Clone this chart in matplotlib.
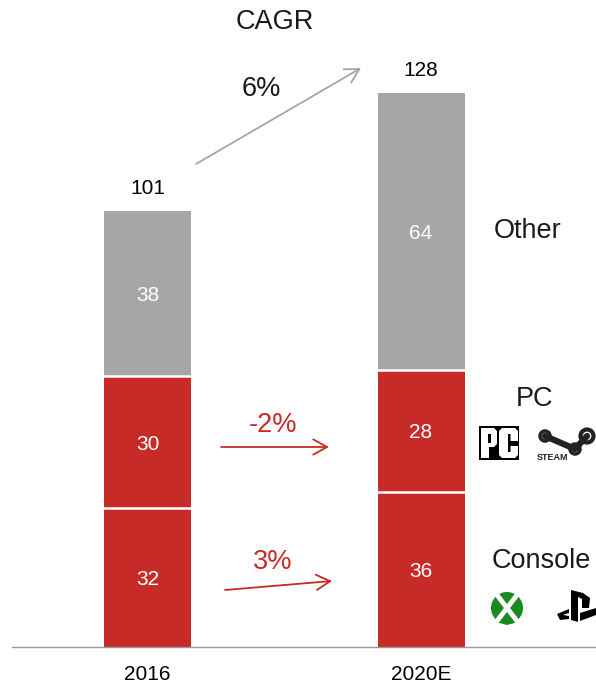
import numpy as np
import matplotlib
matplotlib.use('Agg')
import matplotlib.pyplot as plt
from matplotlib.patches import Circle, Polygon, Rectangle, Wedge

plt.rcParams['font.family'] = ['Liberation Sans', 'DejaVu Sans']

years = ['2016', '2020E']
console = [32.1, 35.8]
pc = [30.5, 28.2]
other = [38.2, 64.0]
console_labels = ['32', '36']
pc_labels = ['30', '28']
other_labels = ['38', '64']
totals = ['101', '128']

RED = '#c62b27'
GRAY = '#a6a6a6'
TEXT = '#1a1a1a'

W, H = 596, 683
BASE = 647
SCALE = 4.328

fig = plt.figure(figsize=(W / 100, H / 100), dpi=100)

# bars live in value space, y=0 on the baseline
ax = fig.add_axes([0, 0, 1, 1])
ax.set_xlim(0, W)
ax.set_ylim(-(H - BASE) / SCALE, BASE / SCALE)
ax.axis('off')

x = np.array([147.5, 421])
width = 87
console = np.array(console)
pc = np.array(pc)
other = np.array(other)

for bottom, vals, col, labels in [(0 * console, console, RED, console_labels),
                                  (console, pc, RED, pc_labels),
                                  (console + pc, other, GRAY, other_labels)]:
    ax.bar(x, vals, width, bottom=bottom, color=col)
    for xi, b, v, lab in zip(x, bottom, vals, labels):
        ax.text(xi, b + v / 2 - 0.45, lab, color='white', fontsize=15, ha='center', va='center')

# white separators between segments
for xi, level in zip(np.repeat(x, 2), np.column_stack([console, console + pc]).ravel()):
    ax.plot([xi - width / 2, xi + width / 2], [level, level], color='white', lw=1.8)

tops = console + pc + other
for xi, t, lab in zip(x, tops, totals):
    ax.text(xi, t + 5.1, lab, color='black', fontsize=15, ha='center', va='center')
for xi, lab in zip(x, years):
    ax.text(xi, -6.3, lab, color='black', fontsize=15, ha='center', va='center')

ax.plot([12, 596], [0, 0], color='#9a9a9a', lw=1, clip_on=False)

# annotations and logos in pixel space
ov = fig.add_axes([0, 0, 1, 1])
ov.set_xlim(0, W)
ov.set_ylim(H, 0)
ov.axis('off')
ov.patch.set_alpha(0)

ov.text(275, 22, 'CAGR', fontsize=19.5, color=TEXT, ha='center', va='center')
ov.text(261, 89, '6%', fontsize=19.5, color=TEXT, ha='center', va='center')
ov.text(273, 425, '-2%', fontsize=19.5, color=RED, ha='center', va='center')
ov.text(272.5, 562, '3%', fontsize=19.5, color=RED, ha='center', va='center')
ov.text(528, 231, 'Other', fontsize=19.5, color=TEXT, ha='center', va='center')
ov.text(535, 399, 'PC', fontsize=19.5, color=TEXT, ha='center', va='center')
ov.text(541, 561.5, 'Console', fontsize=19.5, color=TEXT, ha='center', va='center')


def arrow(x0, y0, x1, y1, col):
    ov.annotate('', xy=(x1, y1), xytext=(x0, y0),
                arrowprops=dict(arrowstyle='->,head_length=1.0,head_width=0.55',
                                color=col, lw=1.3, shrinkA=0, shrinkB=0))


arrow(196, 164, 361, 68, GRAY)
arrow(221, 447, 329, 447, RED)
arrow(225, 590, 332, 581, RED)

# PC logo, block letters
ov.add_patch(Rectangle((479, 426), 40, 34, color='black', lw=0))
ov.add_patch(Polygon([[481, 428], [494, 428], [497, 431], [497, 444], [494, 447], [489, 447],
                      [489, 458], [481, 458]], color='white', lw=0))
ov.add_patch(Rectangle((488, 434), 2.5, 9, color='black', lw=0))
ov.add_patch(Polygon([[502, 428], [515, 428], [518, 431], [518, 441], [510.5, 441], [510.5, 434],
                      [508, 434], [508, 452], [510.5, 452], [510.5, 446], [518, 446], [518, 455],
                      [515, 458], [502, 458], [499, 455], [499, 431]], color='white', lw=0))

# Steam logo
ov.plot([545, 575, 587], [436, 449, 436], color='#222222', lw=4.5, solid_capstyle='round')
ov.add_patch(Circle((545, 436), 5, fc='white', ec='#222222', lw=2.5))
ov.add_patch(Circle((587, 436), 6.5, fc='white', ec='#222222', lw=3))
ov.add_patch(Circle((575, 449), 5, fc='white', ec='#222222', lw=2.5))
ov.text(552.5, 457, 'STEAM', color='#222222', fontsize=6.5, fontweight='bold', ha='center', va='center')

# Xbox logo
ov.add_patch(Circle((507, 608), 16, color='#1a8a1e', lw=0))
ov.plot([497, 517], [595, 621], color='white', lw=3.5)
ov.plot([517, 497], [595, 621], color='white', lw=3.5)
ov.add_patch(Polygon([[507, 609], [518, 622], [507, 625], [496, 622]], color='#1a8a1e', lw=0))
ov.add_patch(Wedge((507, 591), 8, 205, 335, color='white', lw=0))

# PlayStation logo
ov.add_patch(Polygon([[571, 590], [571, 620], [578, 622], [578, 597], [582, 599], [582, 608],
                      [589, 608], [590, 598], [583, 593]], color='black', lw=0))
ov.add_patch(Polygon([[557, 614], [569, 609], [569, 613], [563, 615], [569, 616], [569, 619],
                      [560, 620]], color='black', lw=0))
ov.add_patch(Polygon([[580, 613], [596, 608], [596, 615], [580, 621]], color='black', lw=0))

fig.savefig('out.png', dpi=100)
